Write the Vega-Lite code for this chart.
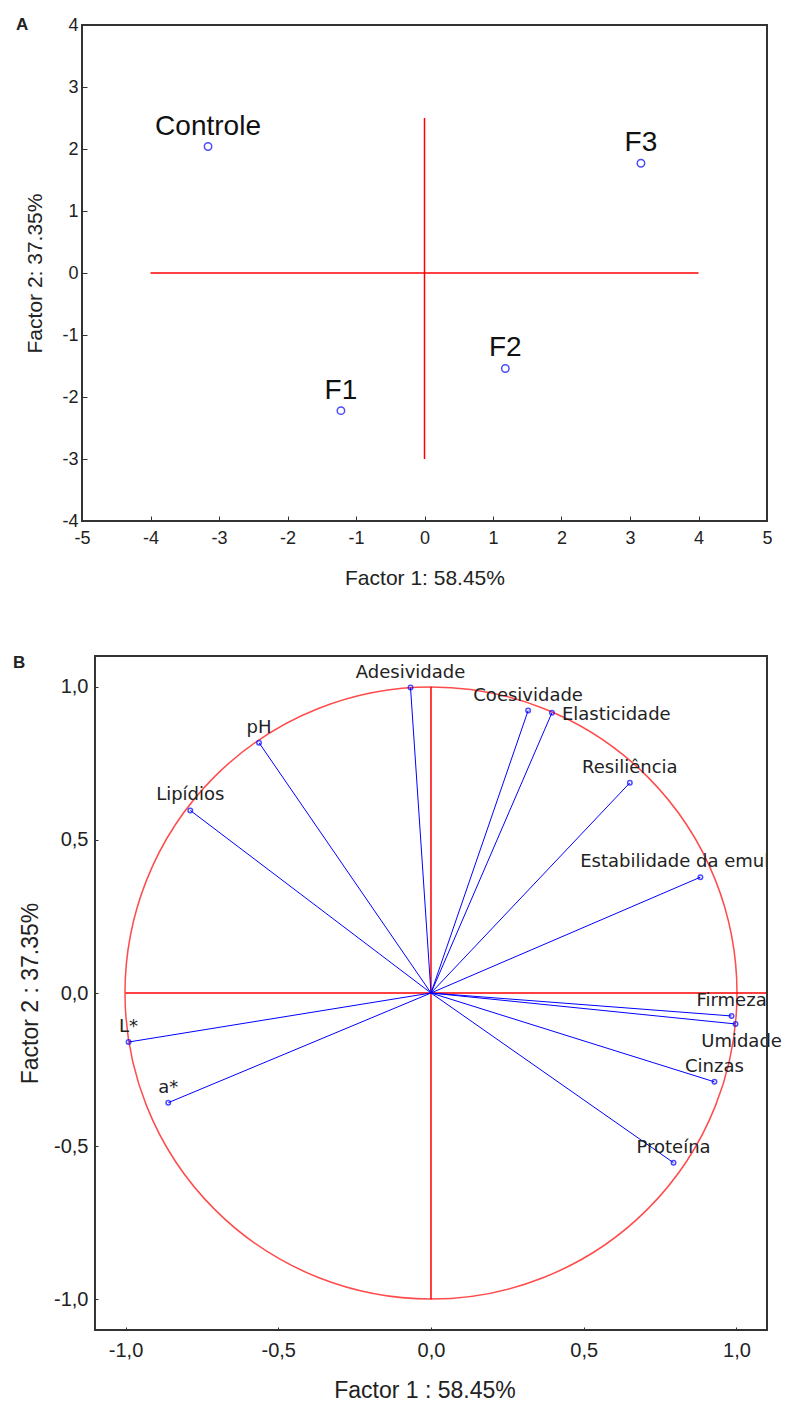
{
  "$schema": "https://vega.github.io/schema/vega-lite/v6.json",
  "background": "white",
  "padding": {"left": 13, "top": 15, "right": 0, "bottom": 0},
  "spacing": 65,
  "config": {
    "font": "Liberation Sans",
    "axis": {"grid": false, "labelFont": "Liberation Sans", "titleFont": "Liberation Sans", "labelColor": "#222", "titleColor": "#222", "titleFontWeight": "normal", "tickColor": "#333", "domainColor": "#333", "labelFlush": false, "labelOverlap": false},
    "title": {"font": "Liberation Sans", "fontWeight": "bold", "fontSize": 17, "color": "#222"}
  },
  "datasets": {
    "scores": [
      {"label": "Controle", "x": -3.16, "y": 2.04},
      {"label": "F1", "x": -1.22, "y": -2.22},
      {"label": "F2", "x": 1.18, "y": -1.54},
      {"label": "F3", "x": 3.16, "y": 1.77}
    ],
    "crossA": [
      {"x": -4, "y": 0, "x2": 4, "y2": 0},
      {"x": 0, "y": -3, "x2": 0, "y2": 2.5}
    ],
    "crossB": [
      {"x": -1, "y": 0, "x2": 1.1, "y2": 0},
      {"x": 0, "y": -1, "x2": 0, "y2": 1}
    ],
    "loadings": [
      {"label": "Adesividade", "x": -0.067, "y": 0.997},
      {"label": "pH", "x": -0.563, "y": 0.817},
      {"label": "Lipídios", "x": -0.788, "y": 0.596},
      {"label": "Coesividade", "x": 0.318, "y": 0.922},
      {"label": "Elasticidade", "x": 0.396, "y": 0.915},
      {"label": "Resiliência", "x": 0.651, "y": 0.686},
      {"label": "Estabilidade da emulsão", "x": 0.882, "y": 0.378},
      {"label": "Firmeza", "x": 0.984, "y": -0.075},
      {"label": "Umidade", "x": 0.997, "y": -0.101},
      {"label": "Cinzas", "x": 0.928, "y": -0.29},
      {"label": "Proteína", "x": 0.794, "y": -0.554},
      {"label": "L*", "x": -0.99, "y": -0.16},
      {"label": "a*", "x": -0.86, "y": -0.358}
    ]
  },
  "vconcat": [
    {
      "width": 685,
      "height": 496,
      "view": {"stroke": "#333", "strokeWidth": 2},
      "title": {"text": "A", "anchor": "start", "frame": "group", "dx": -66, "baseline": "middle", "offset": -26},
      "layer": [
        {
          "data": {"name": "crossA"},
          "mark": {"type": "rule", "color": "#ff0000", "strokeWidth": 1.5},
          "encoding": {
            "x": {"field": "x", "type": "quantitative", "scale": {"domain": [-5, 5], "nice": false, "zero": false},
              "axis": {"title": "Factor 1: 58.45%", "values": [-5, -4, -3, -2, -1, 0, 1, 2, 3, 4, 5], "labelExpr": "replace(format(datum.value,'d'),'−','-')", "tickSize": -5, "labelPadding": 13, "labelFontSize": 18, "titleFontSize": 21, "titleY": 57, "titleBaseline": "middle", "domain": false}},
            "y": {"field": "y", "type": "quantitative", "scale": {"domain": [-4, 4], "nice": false, "zero": false},
              "axis": {"title": "Factor 2: 37.35%", "values": [-4, -3, -2, -1, 0, 1, 2, 3, 4], "labelExpr": "replace(format(datum.value,'d'),'−','-')", "tickSize": -5, "labelPadding": 9, "labelFontSize": 18, "titleFontSize": 21, "titleX": -47, "titleBaseline": "middle", "domain": false}},
            "x2": {"field": "x2"},
            "y2": {"field": "y2"}
          }
        },
        {
          "data": {"name": "scores"},
          "mark": {"type": "point", "shape": "circle", "filled": false, "color": "#0000ff", "size": 55, "strokeWidth": 1.5},
          "encoding": {
            "x": {"field": "x", "type": "quantitative"},
            "y": {"field": "y", "type": "quantitative"}
          }
        },
        {
          "data": {"name": "scores"},
          "mark": {"type": "text", "fontSize": 28, "baseline": "alphabetic", "dy": -12, "color": "#111", "font": "Liberation Sans"},
          "encoding": {
            "x": {"field": "x", "type": "quantitative"},
            "y": {"field": "y", "type": "quantitative"},
            "text": {"field": "label"}
          }
        }
      ]
    },
    {
      "width": 685,
      "height": 674,
      "view": {"stroke": null},
      "title": {"text": "B", "anchor": "start", "frame": "group", "dx": -69, "baseline": "middle", "offset": -25},
      "layer": [
        {
          "data": {"values": [{"x": 0, "y": 0}]},
          "mark": {"type": "point", "shape": "circle", "filled": false, "color": "#ff0000", "size": 374544, "strokeWidth": 1.5},
          "encoding": {
            "x": {"field": "x", "type": "quantitative", "scale": {"domain": [-1.1425, 1.1], "nice": false, "zero": false},
              "axis": {"title": "Factor 1 : 58.45%", "values": [-1, -0.5, 0, 0.5, 1], "labelExpr": "replace(replace(format(datum.value,'.1f'),'.',','),'−','-')", "tickSize": -3, "labelPadding": 13, "labelFontSize": 20, "titleFontSize": 23, "titleY": 60, "titleBaseline": "middle", "domain": false}},
            "y": {"field": "y", "type": "quantitative", "scale": {"domain": [-1.1, 1.1], "nice": false, "zero": false},
              "axis": {"title": "Factor 2 : 37.35%", "values": [-1, -0.5, 0, 0.5, 1], "labelExpr": "replace(replace(format(datum.value,'.1f'),'.',','),'−','-')", "offset": -13, "tickSize": -3, "labelPadding": 10, "labelFontSize": 20, "titleFontSize": 23, "titleX": -65, "titleBaseline": "middle", "domain": false}}
          }
        },
        {
          "data": {"name": "crossB"},
          "mark": {"type": "rule", "color": "#ff0000", "strokeWidth": 1.5},
          "encoding": {
            "x": {"field": "x", "type": "quantitative"},
            "y": {"field": "y", "type": "quantitative"},
            "x2": {"field": "x2"},
            "y2": {"field": "y2"}
          }
        },
        {
          "data": {"name": "loadings"},
          "mark": {"type": "rule", "color": "#0000ff", "strokeWidth": 1},
          "encoding": {
            "x": {"field": "x", "type": "quantitative"},
            "y": {"field": "y", "type": "quantitative"},
            "x2": {"datum": 0},
            "y2": {"datum": 0}
          }
        },
        {
          "data": {"name": "loadings"},
          "mark": {"type": "point", "shape": "circle", "filled": false, "color": "#0000ff", "size": 20, "strokeWidth": 1.5},
          "encoding": {
            "x": {"field": "x", "type": "quantitative"},
            "y": {"field": "y", "type": "quantitative"}
          }
        },
        {
          "data": {"name": "loadings"},
          "transform": [{"filter": {"not": {"field": "label", "oneOf": ["Elasticidade", "Umidade", "Estabilidade da emulsão", "Firmeza"]}}}],
          "mark": {"type": "text", "font": "DejaVu Sans", "fontSize": 18, "baseline": "alphabetic", "dy": -10, "color": "#222"},
          "encoding": {
            "x": {"field": "x", "type": "quantitative"},
            "y": {"field": "y", "type": "quantitative"},
            "text": {"field": "label"}
          }
        },
        {
          "data": {"name": "loadings"},
          "transform": [{"filter": {"field": "label", "oneOf": ["Firmeza"]}}],
          "mark": {"type": "text", "font": "DejaVu Sans", "fontSize": 18, "baseline": "alphabetic", "dy": -10, "color": "#222", "clip": true},
          "encoding": {
            "x": {"field": "x", "type": "quantitative"},
            "y": {"field": "y", "type": "quantitative"},
            "text": {"field": "label"}
          }
        },
        {
          "data": {"name": "loadings"},
          "transform": [{"filter": {"field": "label", "oneOf": ["Estabilidade da emulsão"]}}],
          "mark": {"type": "text", "font": "DejaVu Sans", "fontSize": 18, "baseline": "alphabetic", "dx": -10, "dy": -10, "color": "#222", "clip": true},
          "encoding": {
            "x": {"field": "x", "type": "quantitative"},
            "y": {"field": "y", "type": "quantitative"},
            "text": {"field": "label"}
          }
        },
        {
          "data": {"name": "loadings"},
          "transform": [{"filter": {"field": "label", "oneOf": ["Elasticidade"]}}],
          "mark": {"type": "text", "font": "DejaVu Sans", "fontSize": 18, "baseline": "alphabetic", "align": "left", "dx": 10, "dy": 7, "color": "#222"},
          "encoding": {
            "x": {"field": "x", "type": "quantitative"},
            "y": {"field": "y", "type": "quantitative"},
            "text": {"field": "label"}
          }
        },
        {
          "data": {"name": "loadings"},
          "transform": [{"filter": {"field": "label", "oneOf": ["Umidade"]}}],
          "mark": {"type": "text", "font": "DejaVu Sans", "fontSize": 18, "baseline": "alphabetic", "dx": 6, "dy": 23, "color": "#222"},
          "encoding": {
            "x": {"field": "x", "type": "quantitative"},
            "y": {"field": "y", "type": "quantitative"},
            "text": {"field": "label"}
          }
        },
        {
          "data": {"values": [{}]},
          "mark": {"type": "rect", "filled": false, "stroke": "#333", "strokeWidth": 2},
          "encoding": {
            "x": {"datum": -1.1, "type": "quantitative"},
            "x2": {"datum": 1.1},
            "y": {"datum": -1.1, "type": "quantitative"},
            "y2": {"datum": 1.1}
          }
        }
      ]
    }
  ]
}
